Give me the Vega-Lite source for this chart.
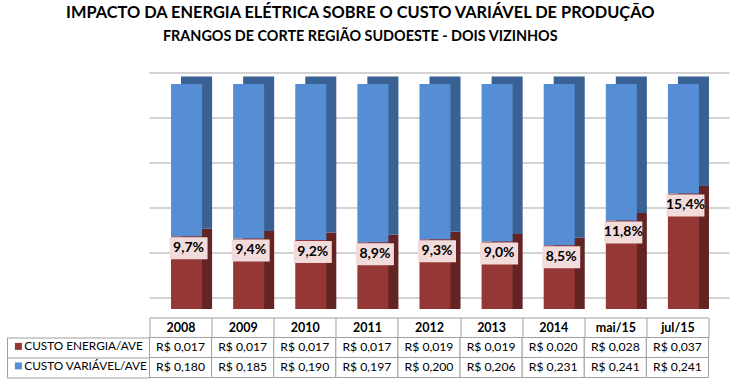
{
  "$schema": "https://vega.github.io/schema/vega-lite/v6.json",
  "autosize": {"type": "pad"},
  "padding": {"left": 6.5, "top": 5, "right": 11, "bottom": 6.3},
  "background": "white",
  "config": {
    "font": "Lato",
    "view": {"stroke": null},
    "locale": {"number": {"decimal": ",", "thousands": ".", "grouping": [3], "currency": ["R$ ", ""]}}
  },
  "title": {
    "text": "IMPACTO DA ENERGIA ELÉTRICA SOBRE O CUSTO VARIÁVEL DE PRODUÇÃO",
    "subtitle": "FRANGOS DE CORTE REGIÃO SUDOESTE - DOIS VIZINHOS",
    "anchor": "middle",
    "font": "Lato",
    "subtitleFont": "Lato",
    "fontSize": 16.4,
    "subtitleFontSize": 14.4,
    "fontWeight": "bold",
    "subtitleFontWeight": "bold",
    "color": "black",
    "subtitleColor": "black",
    "subtitlePadding": 8.5,
    "offset": 29,
    "dx": -8
  },
  "datasets": {
    "custos": [
      {"ano": "2008", "energia": 0.017, "variavel": 0.180, "participacao": 0.097, "total": 1},
      {"ano": "2009", "energia": 0.017, "variavel": 0.185, "participacao": 0.094, "total": 1},
      {"ano": "2010", "energia": 0.017, "variavel": 0.190, "participacao": 0.092, "total": 1},
      {"ano": "2011", "energia": 0.017, "variavel": 0.197, "participacao": 0.089, "total": 1},
      {"ano": "2012", "energia": 0.019, "variavel": 0.200, "participacao": 0.093, "total": 1},
      {"ano": "2013", "energia": 0.019, "variavel": 0.206, "participacao": 0.090, "total": 1},
      {"ano": "2014", "energia": 0.020, "variavel": 0.231, "participacao": 0.085, "total": 1},
      {"ano": "mai/15", "energia": 0.028, "variavel": 0.241, "participacao": 0.118, "total": 1},
      {"ano": "jul/15", "energia": 0.037, "variavel": 0.241, "participacao": 0.154, "total": 1}
    ],
    "grade": [
      {"nivel": 0}, {"nivel": 0.06}, {"nivel": 0.12}, {"nivel": 0.18}, {"nivel": 0.24}, {"nivel": 0.3}
    ]
  },
  "spacing": 28.5,
  "bounds": "flush",
  "vconcat": [
    {
      "width": 559,
      "height": 225,
      "data": {"name": "custos"},
      "layer": [
        {
          "data": {"name": "grade"},
          "mark": {"type": "rule", "color": "#a6a6a6", "xOffset": 21, "x2Offset": 21, "yOffset": -11},
          "encoding": {
            "y": {"field": "nivel", "type": "quantitative", "scale": {"domain": [0, 0.3], "nice": false, "clamp": true}, "axis": null}
          }
        },
        {
          "mark": {"type": "bar", "color": "#632423", "width": {"band": 0.5}, "xOffset": 16, "yOffset": -7.5, "y2Offset": -7.5},
          "encoding": {
            "x": {"field": "ano", "type": "ordinal", "scale": {"domain": ["2008","2009","2010","2011","2012","2013","2014","mai/15","jul/15"], "paddingInner": 0, "paddingOuter": 0},
                  "axis": {"orient": "bottom", "offset": 8.5, "domain": true, "domainColor": "#a0a0a0", "ticks": false, "labels": false, "title": null}},
            "y": {"field": "participacao", "type": "quantitative", "stack": null}
          }
        },
        {
          "mark": {"type": "bar", "color": "#3a6193", "width": {"band": 0.5}, "xOffset": 16, "yOffset": -7.5, "y2Offset": -7.5},
          "encoding": {
            "x": {"field": "ano", "type": "ordinal"},
            "y": {"field": "participacao", "type": "quantitative"},
            "y2": {"field": "total"}
          }
        },
        {
          "mark": {"type": "bar", "color": "#953735", "width": {"band": 0.5}, "xOffset": 6},
          "encoding": {
            "x": {"field": "ano", "type": "ordinal"},
            "y": {"field": "participacao", "type": "quantitative", "stack": null}
          }
        },
        {
          "mark": {"type": "bar", "color": "#558ed5", "width": {"band": 0.5}, "xOffset": 6},
          "encoding": {
            "x": {"field": "ano", "type": "ordinal"},
            "y": {"field": "participacao", "type": "quantitative"},
            "y2": {"field": "total"}
          }
        },
        {
          "mark": {"type": "point", "shape": "M-1,-0.58H1V0.58H-1Z", "size": 1444, "filled": true, "fill": "#f2dcdb", "opacity": 1, "strokeWidth": 0, "xOffset": 8, "yOffset": 12},
          "encoding": {
            "x": {"field": "ano", "type": "ordinal"},
            "y": {"field": "participacao", "type": "quantitative"}
          }
        },
        {
          "mark": {"type": "text", "fontSize": 14, "fontWeight": "bold", "color": "black", "dx": 8, "dy": 12, "baseline": "middle"},
          "encoding": {
            "x": {"field": "ano", "type": "ordinal"},
            "y": {"field": "participacao", "type": "quantitative"},
            "text": {"field": "participacao", "type": "quantitative", "format": ".1%"}
          }
        }
      ]
    },
    {
      "width": 559,
      "height": 40,
      "data": {"name": "custos"},
      "transform": [{"fold": ["energia", "variavel"], "as": ["serie", "valor"]}],
      "encoding": {
        "x": {
          "field": "ano", "type": "ordinal",
          "scale": {"domain": ["2008","2009","2010","2011","2012","2013","2014","mai/15","jul/15"], "paddingInner": 0, "paddingOuter": 0},
          "axis": {"orient": "top", "title": null, "domain": false, "tickBand": "extent", "tickSize": 20, "tickColor": "#a0a0a0",
                   "labelAngle": 0, "labelBaseline": "middle", "labelPadding": -10, "labelFontSize": 12.5, "labelFontWeight": "bold",
                   "labelColor": "black", "labelOverlap": false, "labelFont": "Lato"}
        },
        "y": {
          "field": "serie", "type": "nominal",
          "scale": {"domain": ["energia", "variavel"], "paddingInner": 0, "paddingOuter": 0},
          "axis": {"orient": "left", "title": null, "labels": false, "offset": 142.5, "domain": true, "domainColor": "#a0a0a0",
                   "tickBand": "extent", "tickSize": -142.5, "tickColor": "#a0a0a0"}
        }
      },
      "layer": [
        {"mark": {"type": "rect", "fill": "white", "stroke": "#a0a0a0", "strokeWidth": 1}},
        {
          "mark": {"type": "text", "fontSize": 12.2, "color": "black", "baseline": "middle"},
          "encoding": {"text": {"field": "valor", "type": "quantitative", "format": "$.3f"}}
        },
        {
          "mark": {"type": "point", "filled": true, "opacity": 0},
          "encoding": {
            "color": {
              "field": "serie", "type": "nominal",
              "scale": {"domain": ["energia", "variavel"], "range": ["#953735", "#558ed5"]},
              "legend": {
                "orient": "none", "legendX": -137, "legendY": 256.5, "title": null,
                "symbolType": "square", "symbolSize": 49, "symbolOpacity": 1, "symbolStrokeWidth": 0,
                "labelFontSize": 11.8, "labelFont": "Lato", "labelColor": "black", "labelOffset": 0, "rowPadding": 6.5, "padding": 0, "labelLimit": 0,
                "labelExpr": "datum.label == 'energia' ? 'CUSTO ENERGIA/AVE' : 'CUSTO VARIÁVEL/AVE'"
              }
            }
          }
        }
      ]
    }
  ]
}
